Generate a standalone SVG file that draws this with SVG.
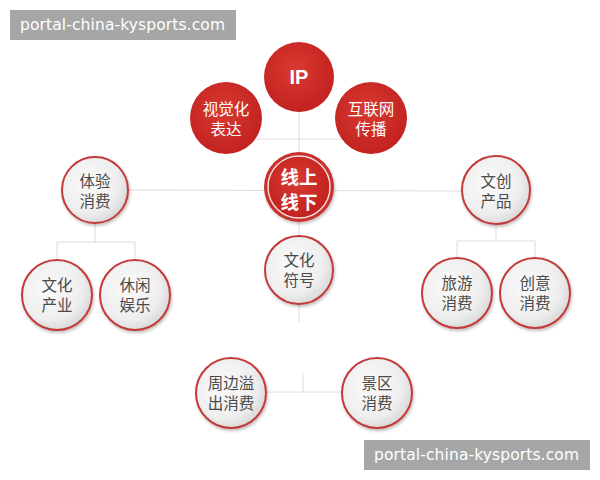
<svg xmlns="http://www.w3.org/2000/svg" width="600" height="480" viewBox="0 0 600 480">
<defs>
<radialGradient id="red" cx="45%" cy="40%" r="65%">
<stop offset="0" stop-color="#d83a30"/>
<stop offset="1" stop-color="#c0201f"/>
</radialGradient>
<radialGradient id="light" cx="40%" cy="40%" r="65%">
<stop offset="0" stop-color="#fafafa"/>
<stop offset="0.7" stop-color="#eeeeee"/>
<stop offset="1" stop-color="#d6d6d6"/>
</radialGradient>
<filter id="sh" x="-30%" y="-30%" width="160%" height="160%">
<feDropShadow dx="1" dy="2" stdDeviation="1.5" flood-color="#000" flood-opacity="0.25"/>
</filter>
</defs>
<style>
.conn line{stroke:#dcdcdc;stroke-width:1;fill:none}
.rc{fill:url(#red)}
.lc{fill:url(#light);stroke:#c23a38;stroke-width:2;filter:url(#sh)}
.tw{font-family:"Noto Sans CJK SC","Noto Sans",sans-serif;fill:#fff;font-size:15.5px;text-anchor:middle}
.td{font-family:"Noto Sans CJK SC","Noto Sans",sans-serif;fill:#4a4a4a;font-size:15.5px;text-anchor:middle}
.tb{font-size:18.5px;font-weight:bold}
.wm{fill:#a6a6a6}
.wt{font-family:"DejaVu Sans","Noto Sans",sans-serif;fill:#fff;font-size:15.5px}
</style>
<rect width="600" height="480" fill="#fff"/>
<g class="conn">
<line x1="299" y1="112" x2="299" y2="322"/>
<line x1="240" y1="139" x2="360" y2="139"/>
<line x1="128" y1="190" x2="463" y2="191"/>
<line x1="95" y1="223" x2="95" y2="242"/>
<line x1="57" y1="242" x2="135" y2="242"/>
<line x1="57" y1="242" x2="57" y2="260"/>
<line x1="135" y1="242" x2="135" y2="260"/>
<line x1="496" y1="224" x2="496" y2="241"/>
<line x1="457" y1="241" x2="535" y2="241"/>
<line x1="457" y1="241" x2="457" y2="258"/>
<line x1="535" y1="241" x2="535" y2="258"/>
<line x1="266" y1="392" x2="342" y2="392"/>
<line x1="303" y1="373" x2="303" y2="392"/>
</g>
<g id="ip"><circle class="rc" cx="299" cy="77" r="35"/><text class="tw" x="299" y="84" style="font-size:20px;font-weight:bold;font-family:'Liberation Sans',sans-serif">IP</text></g>
<g id="shijue"><circle class="rc" cx="226" cy="118" r="36"/><text class="tw" x="226" y="115">视觉化</text><text class="tw" x="226" y="135">表达</text></g>
<g id="hulian"><circle class="rc" cx="371" cy="118" r="36"/><text class="tw" x="371" y="115">互联网</text><text class="tw" x="371" y="135">传播</text></g>
<g id="xianshang"><circle fill="#c8302c" cx="299" cy="187" r="35" filter="url(#sh)"/><circle fill="none" stroke="#f3dcdc" stroke-width="1.5" cx="299" cy="187" r="31"/><circle class="rc" cx="299" cy="187" r="30"/><text class="tw tb" x="299" y="184">线上</text><text class="tw tb" x="299" y="209">线下</text></g>
<g id="wenhuafuhao"><circle class="lc" cx="299" cy="270" r="34"/><text class="td" x="299" y="266">文化</text><text class="td" x="299" y="286">符号</text></g>
<g id="tiyan"><circle class="lc" cx="95" cy="190" r="33"/><text class="td" x="95" y="187">体验</text><text class="td" x="95" y="207">消费</text></g>
<g id="wenchuang"><circle class="lc" cx="496" cy="190" r="34"/><text class="td" x="496" y="187">文创</text><text class="td" x="496" y="207">产品</text></g>
<g id="wenhuachanye"><circle class="lc" cx="57" cy="295" r="35"/><text class="td" x="57" y="291">文化</text><text class="td" x="57" y="311">产业</text></g>
<g id="xiuxian"><circle class="lc" cx="135" cy="295" r="35"/><text class="td" x="135" y="291">休闲</text><text class="td" x="135" y="311">娱乐</text></g>
<g id="lvyou"><circle class="lc" cx="457" cy="293" r="35"/><text class="td" x="457" y="289">旅游</text><text class="td" x="457" y="309">消费</text></g>
<g id="chuangyi"><circle class="lc" cx="535" cy="293" r="35"/><text class="td" x="535" y="289">创意</text><text class="td" x="535" y="309">消费</text></g>
<g id="zhoubian"><circle class="lc" cx="231" cy="393" r="35"/><text class="td" x="231" y="389">周边溢</text><text class="td" x="231" y="409">出消费</text></g>
<g id="jingqu"><circle class="lc" cx="377" cy="393" r="35"/><text class="td" x="377" y="389">景区</text><text class="td" x="377" y="409">消费</text></g>
<rect class="wm" x="10" y="10" width="226" height="30"/>
<text class="wt" x="20" y="30" textLength="205">portal-china-kysports.com</text>
<rect class="wm" x="364" y="440" width="226" height="30"/>
<text class="wt" x="374" y="460" textLength="205">portal-china-kysports.com</text>
</svg>
